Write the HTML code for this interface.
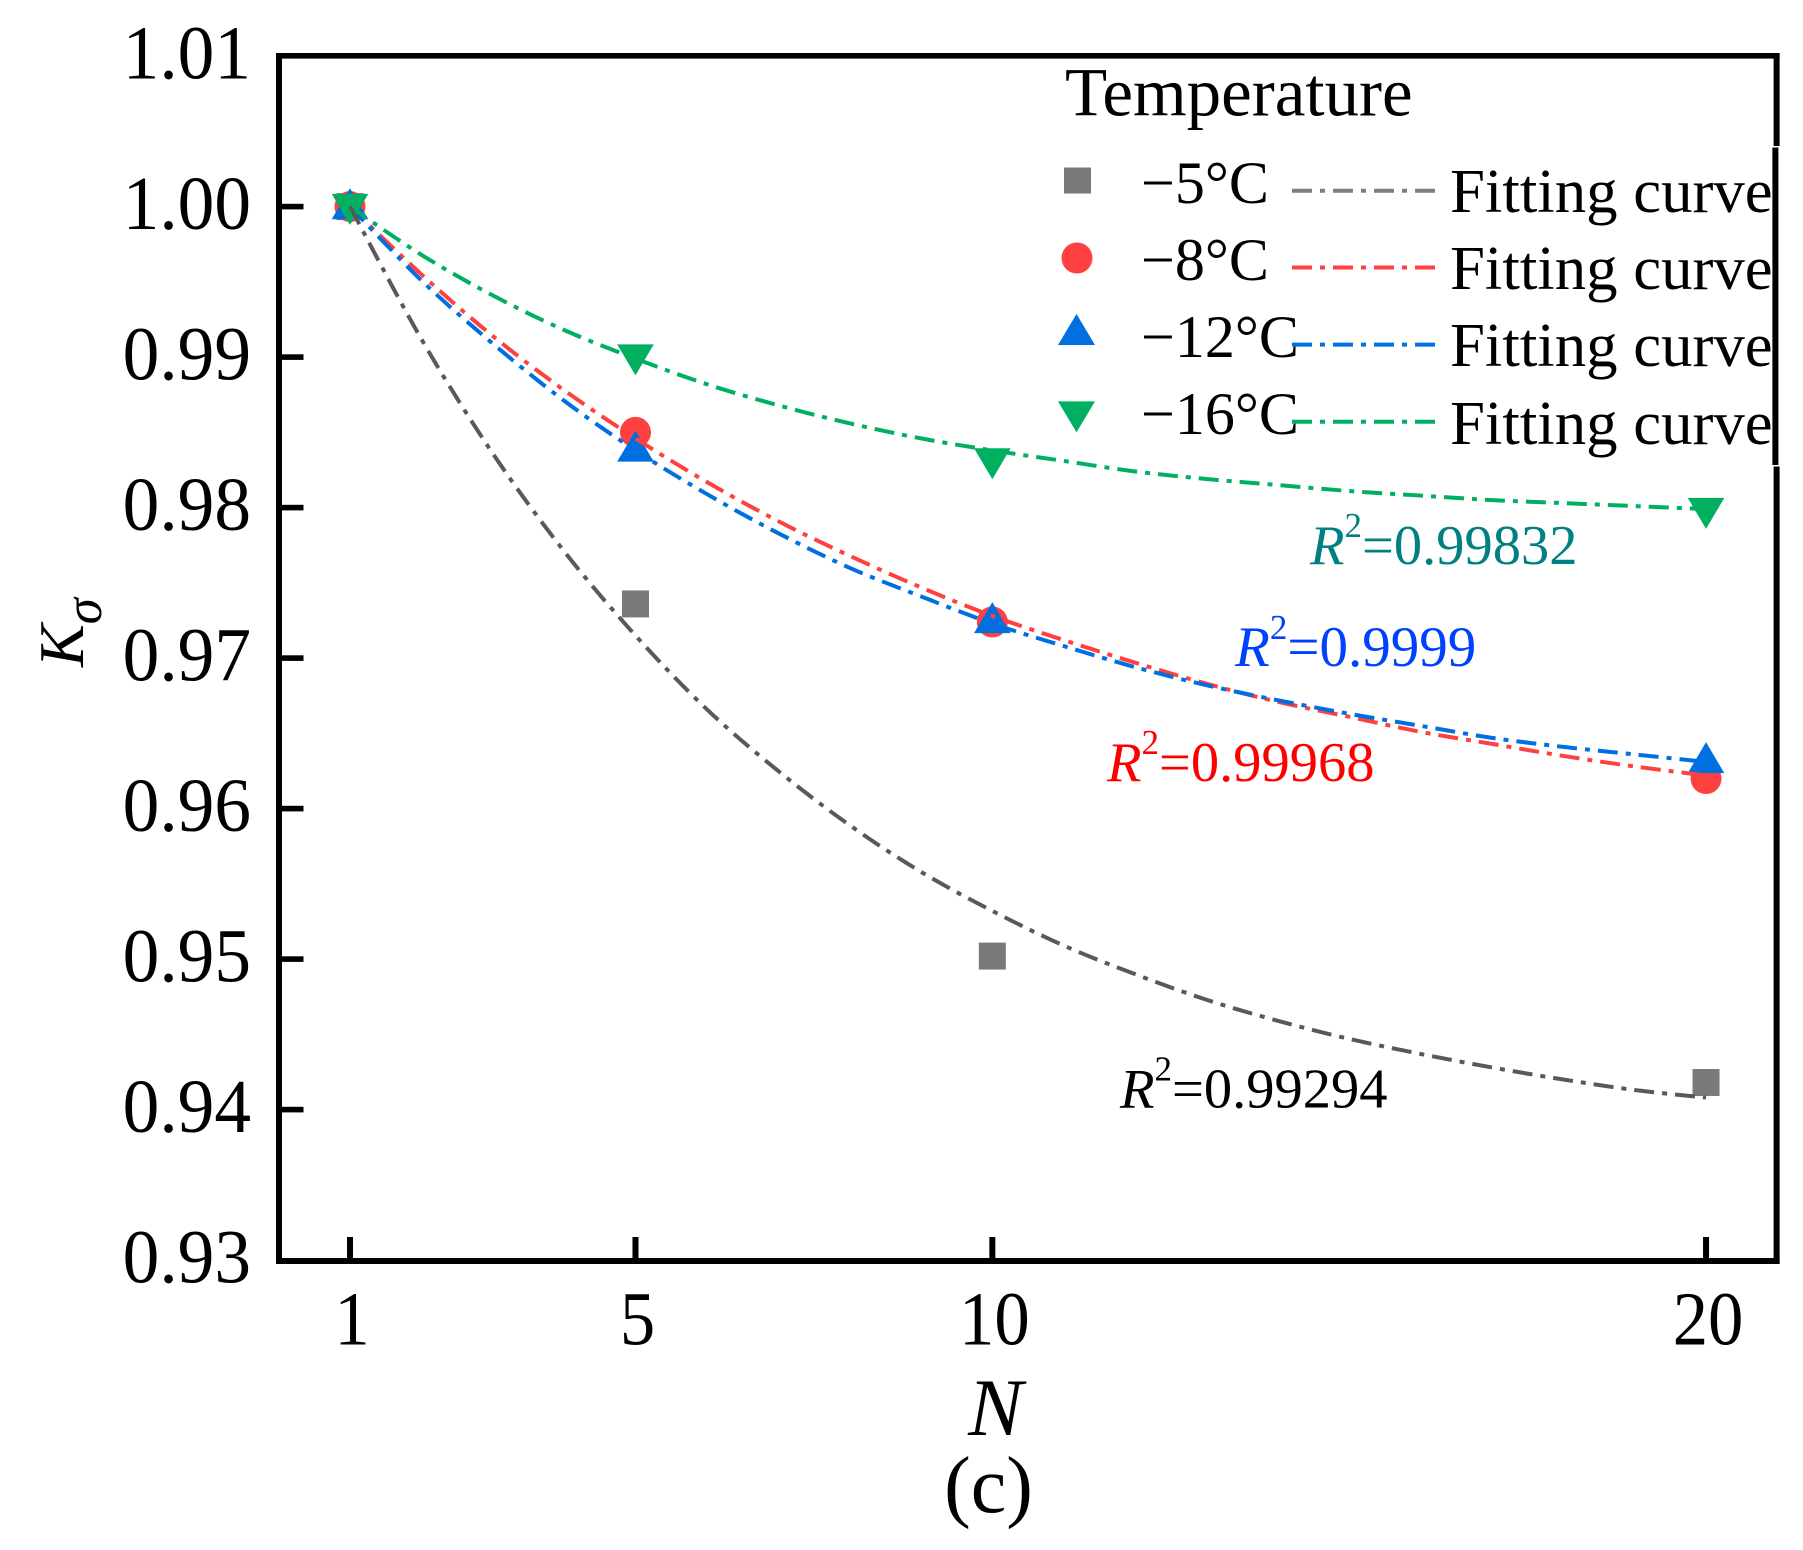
<!DOCTYPE html>
<html lang="en">
<head>
<meta charset="utf-8">
<title>K sigma versus N</title>
<style>
html,body{margin:0;padding:0;background:#fff;}
svg{display:block;}
text{font-family:"Liberation Serif","Times New Roman",serif;fill:#000;}
.it{font-style:italic;}
</style>
</head>
<body>
<svg id="chart" xmlns="http://www.w3.org/2000/svg" width="1803" height="1550" viewBox="0 0 1803 1550">
  <rect x="0" y="0" width="1803" height="1550" fill="#fff"/>
  <g id="marks"></g>
  <g id="curves"></g>

  <g fill="#000">
    <rect x="276" y="53" width="6" height="1211"/>
    <rect x="276" y="53" width="1503.6" height="5.6"/>
    <rect x="276" y="1258" width="1503.6" height="6"/>
    <rect x="1773.6" y="53" width="6" height="93"/>
    <rect x="1772.4" y="147.5" width="6" height="317.5"/>
    <rect x="1773.6" y="466.5" width="6" height="797.5"/>
  </g>
  <g id="ticks"></g>

  <text transform="translate(83 667) rotate(-90)" font-size="64" class="it">K<tspan dy="18" font-size="53">σ</tspan></text>
  <text x="995.5" y="1435" text-anchor="middle" font-size="82" class="it">N</text>
  <text x="988.5" y="1512" text-anchor="middle" font-size="80">(c)</text>

  <g>
    <text x="1065" y="115.5" font-size="69">Temperature</text>

    <rect x="1064" y="167.5" width="27" height="26" fill="#7a7a7a"/>
    <circle cx="1077" cy="258" r="15.5" fill="#ff4040"/>
    <polygon points="1076.5,314 1095,345 1058,345" fill="#0070e0"/>
    <polygon points="1058,401.4 1095,401.4 1076.5,432.4" fill="#00b060"/>

    <text x="1141" y="203" font-size="60">−5°C</text>
    <text x="1141" y="280" font-size="60">−8°C</text>
    <text x="1141" y="357" font-size="60">−12°C</text>
    <text x="1141" y="434" font-size="60">−16°C</text>

    <line x1="1292" y1="190.7" x2="1435" y2="190.7" stroke="#7f7f7f" stroke-width="4" stroke-dasharray="20 8 5 8"/>
    <line x1="1292" y1="267.5" x2="1435" y2="267.5" stroke="#ff4040" stroke-width="4" stroke-dasharray="20 8 5 8"/>
    <line x1="1292" y1="344.6" x2="1435" y2="344.6" stroke="#0070e0" stroke-width="4" stroke-dasharray="20 8 5 8"/>
    <line x1="1292" y1="421.8" x2="1435" y2="421.8" stroke="#00b060" stroke-width="4" stroke-dasharray="20 8 5 8"/>

    <text x="1450" y="212" font-size="62.8">Fitting curve</text>
    <text x="1450" y="289" font-size="62.8">Fitting curve</text>
    <text x="1450" y="366" font-size="62.8">Fitting curve</text>
    <text x="1450" y="444" font-size="62.8">Fitting curve</text>
  </g>

  <text x="1310" y="564" font-size="56.5" style="fill:#008080"><tspan class="it" style="fill:#008080">R</tspan><tspan dy="-27" font-size="35" style="fill:#008080">2</tspan><tspan dy="27" style="fill:#008080">=0.99832</tspan></text>
  <text x="1235" y="666" font-size="57" style="fill:#0040ff"><tspan class="it" style="fill:#0040ff">R</tspan><tspan dy="-27" font-size="35" style="fill:#0040ff">2</tspan><tspan dy="27" style="fill:#0040ff">=0.9999</tspan></text>
  <text x="1107" y="781" font-size="56.5" style="fill:#ff0000"><tspan class="it" style="fill:#ff0000">R</tspan><tspan dy="-27" font-size="35" style="fill:#ff0000">2</tspan><tspan dy="27" style="fill:#ff0000">=0.99968</tspan></text>
  <text x="1120" y="1107.5" font-size="56.5"><tspan class="it">R</tspan><tspan dy="-27" font-size="35">2</tspan><tspan dy="27">=0.99294</tspan></text>
</svg>

<script>
var xTickValues = [1, 5, 10, 20];
var xTickLabels = ["1", "5", "10", "20"];
var yTickValues = [1.01, 1.00, 0.99, 0.98, 0.97, 0.96, 0.95, 0.94, 0.93];
var yTickLabels = ["1.01", "1.00", "0.99", "0.98", "0.97", "0.96", "0.95", "0.94", "0.93"];

var measuredN = [1, 5, 10, 20];
var minus5Points = [1.0, 0.9736, 0.9502, 0.9418];
var minus8Points = [1.0, 0.985, 0.9724, 0.962];
var minus12Points = [1.0, 0.9839, 0.9725, 0.9632];
var minus16Points = [1.0, 0.99, 0.9831, 0.9798];

var curveN = [1, 2, 3, 4, 5, 6, 7, 8, 9, 10, 11, 12, 13, 14, 15, 16, 17, 18, 19, 20];
var minus5Curve = [1.0, 0.9912, 0.9836, 0.9771, 0.9715, 0.9666, 0.9625, 0.9589, 0.9558, 0.9532, 0.9509, 0.949, 0.9473, 0.9459, 0.9447, 0.9437, 0.9428, 0.942, 0.9413, 0.9408];
var minus8Curve = [1.0, 0.9955, 0.9914, 0.9878, 0.9846, 0.9817, 0.9791, 0.9768, 0.9747, 0.9728, 0.9712, 0.9697, 0.9683, 0.9671, 0.9661, 0.9651, 0.9643, 0.9635, 0.9628, 0.9622];
var minus12Curve = [1.0, 0.9951, 0.9909, 0.9871, 0.9838, 0.9809, 0.9783, 0.976, 0.9741, 0.9723, 0.9708, 0.9694, 0.9682, 0.9672, 0.9663, 0.9655, 0.9647, 0.9641, 0.9636, 0.9631];
var minus16Curve = [1.0, 0.9968, 0.9941, 0.9918, 0.9899, 0.9882, 0.9868, 0.9856, 0.9846, 0.9838, 0.9831, 0.9824, 0.9819, 0.9815, 0.9811, 0.9808, 0.9805, 0.9803, 0.9801, 0.9799];

var NS = "http://www.w3.org/2000/svg";

function xScale(n) {
  return 350 + (n - 1) * 71.37;
}
function yScale(v) {
  return 206.6 + (1 - v) * 15050;
}
function make(tag, parent) {
  var el = document.createElementNS(NS, tag);
  parent.appendChild(el);
  return el;
}

var ticksGroup = document.getElementById("ticks");
var marksGroup = document.getElementById("marks");
var curvesGroup = document.getElementById("curves");

yTickValues.forEach(function (v, i) {
  var y = yScale(v);
  if (v < 1.005 && v > 0.935) {
    var tick = make("rect", ticksGroup);
    
    
    tick.setAttribute("x", 280);
    tick.setAttribute("y", y - 2.8);
    tick.setAttribute("width", 23.5);
    tick.setAttribute("height", 5.6);
    tick.setAttribute("fill", "#000");
  }
  var label = make("text", ticksGroup);
  
  
  label.setAttribute("transform", "translate(251 " + (y + 22.5) + ") scale(0.965 1)");
  label.setAttribute("text-anchor", "end");
  label.setAttribute("font-size", 76);
  label.textContent = yTickLabels[i];
});

xTickValues.forEach(function (n, i) {
  var x = xScale(n);
  var tick = make("rect", ticksGroup);
  
  
  tick.setAttribute("x", x - 3);
  tick.setAttribute("y", 1237);
  tick.setAttribute("width", 6);
  tick.setAttribute("height", 22);
  tick.setAttribute("fill", "#000");
  var label = make("text", ticksGroup);
  
  
  label.setAttribute("transform", "translate(" + (x + 2) + " 1344.5) scale(0.93 1)");
  label.setAttribute("text-anchor", "middle");
  label.setAttribute("font-size", 76);
  label.textContent = xTickLabels[i];
});

function drawSquare(n, v) {
  var m = make("rect", marksGroup);
  
  
  m.setAttribute("x", xScale(n) - 13.5);
  m.setAttribute("y", yScale(v) - 13.5);
  m.setAttribute("width", 27);
  m.setAttribute("height", 27);
  m.setAttribute("fill", "#7a7a7a");
}
function drawCircle(n, v) {
  var m = make("circle", marksGroup);
  
  
  m.setAttribute("cx", xScale(n));
  m.setAttribute("cy", yScale(v));
  m.setAttribute("r", 15.5);
  m.setAttribute("fill", "#ff4040");
}
function drawUp(n, v) {
  var x = xScale(n);
  var y = yScale(v);
  var m = make("polygon", marksGroup);
  
  
  m.setAttribute("points", x + "," + (y - 18.3) + " " + (x + 18.3) + "," + (y + 12.7) + " " + (x - 18.3) + "," + (y + 12.7));
  m.setAttribute("fill", "#0070e0");
}
function drawDown(n, v) {
  var x = xScale(n);
  var y = yScale(v);
  var m = make("polygon", marksGroup);
  
  
  m.setAttribute("points", (x - 18.3) + "," + (y - 12.7) + " " + (x + 18.3) + "," + (y - 12.7) + " " + x + "," + (y + 18.3));
  m.setAttribute("fill", "#00b060");
}

measuredN.forEach(function (n, i) { drawSquare(n, minus5Points[i]); });
measuredN.forEach(function (n, i) { drawCircle(n, minus8Points[i]); });
measuredN.forEach(function (n, i) { drawUp(n, minus12Points[i]); });
measuredN.forEach(function (n, i) { drawDown(n, minus16Points[i]); });

function curvePath(values) {
  var pts = curveN.map(function (n, i) { return [xScale(n), yScale(values[i])]; });
  var d = "M" + pts[0][0] + " " + pts[0][1];
  for (var i = 0; i < pts.length - 1; i++) {
    var p0 = pts[Math.max(i - 1, 0)];
    var p1 = pts[i];
    var p2 = pts[i + 1];
    var p3 = pts[Math.min(i + 2, pts.length - 1)];
    d += " C" + (p1[0] + (p2[0] - p0[0]) / 6) + " " + (p1[1] + (p2[1] - p0[1]) / 6) +
         " " + (p2[0] - (p3[0] - p1[0]) / 6) + " " + (p2[1] - (p3[1] - p1[1]) / 6) +
         " " + p2[0] + " " + p2[1];
  }
  return d;
}
function drawCurve(values, color, name) {
  var c = make("path", curvesGroup);
  
  
  c.setAttribute("d", curvePath(values));
  c.setAttribute("fill", "none");
  c.setAttribute("stroke", color);
  c.setAttribute("stroke-width", 4);
  c.setAttribute("stroke-dasharray", "20 8 5 8");
}
drawCurve(minus8Curve, "#ff4040", "fit-curve-minus-8");
drawCurve(minus12Curve, "#0070e0", "fit-curve-minus-12");
drawCurve(minus16Curve, "#00b060", "fit-curve-minus-16");
drawCurve(minus5Curve, "#595959", "fit-curve-minus-5");
</script>
</body>
</html>
